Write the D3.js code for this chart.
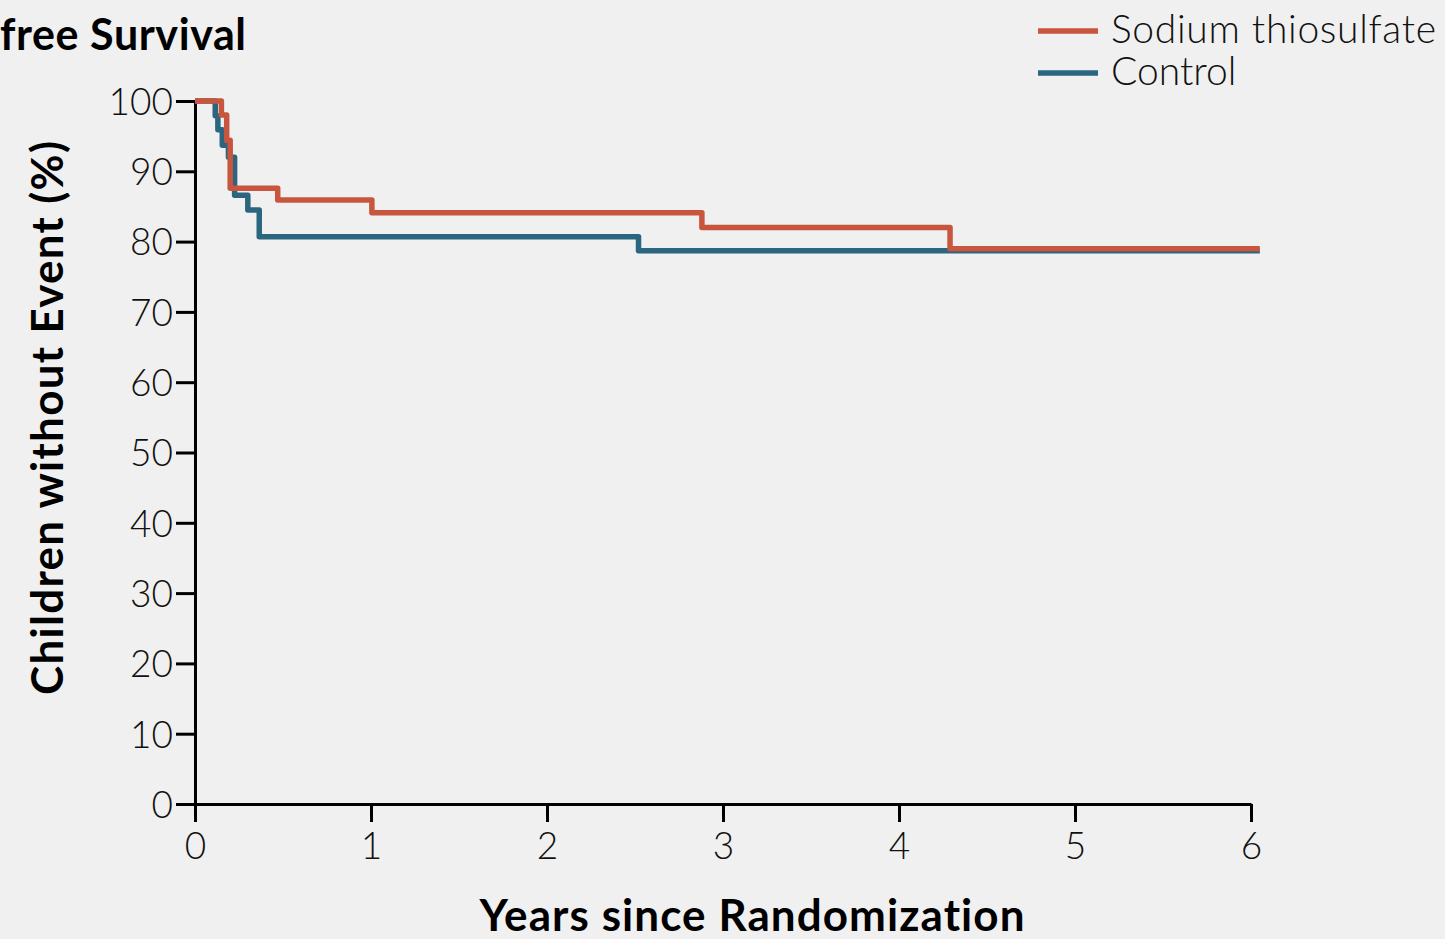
<!DOCTYPE html>
<html>
<head>
<meta charset="utf-8">
<script src="https://cdn.jsdelivr.net/npm/d3@7"></script>
<style>
  html, body { margin: 0; padding: 0; background: #f0f0f0; overflow: hidden; }
  svg { display: block; }
  text { font-variant-ligatures: none; font-feature-settings: "liga" 0; }
  .light { font-family: Lato, "Noto Sans", sans-serif; font-weight: 300; fill: #111; }
  .bold { font-family: Lato, "Noto Sans", sans-serif; font-weight: 700; fill: #000; }
</style>
</head>
<body>
<script>
// ---- data ----
const seriesNames = ["Sodium thiosulfate", "Control"];
const seriesColors = ["#c8553d", "#2b6580"];
const stsTimes = [0, 0.15, 0.18, 0.20, 0.47, 1.005, 2.88, 4.29, 6.05];
const stsSurv  = [100, 98.0, 94.4, 87.6, 85.9, 84.1, 82.0, 79.0, 79.0];
const ctrlTimes = [0, 0.115, 0.13, 0.155, 0.19, 0.225, 0.30, 0.365, 2.52, 6.05];
const ctrlSurv  = [100, 97.9, 95.9, 93.7, 92.0, 86.6, 84.5, 80.7, 78.7, 78.7];
const xTicks = [0, 1, 2, 3, 4, 5, 6];
const yTicks = [0, 10, 20, 30, 40, 50, 60, 70, 80, 90, 100];
const titleText = "free Survival";
const xTitle = "Years since Randomization";
const yTitle = "Children without Event (%)";

const W = 1445, H = 939;
const svg = d3.select("body").append("svg").attr("width", W).attr("height", H);
svg.append("rect").attr("width", W).attr("height", H).attr("fill", "#f0f0f0");

const x = d3.scaleLinear().domain([0, 6]).range([195, 1251]);
const y = d3.scaleLinear().domain([0, 100]).range([804, 101]);

// title (partially visible in the reference)
svg.append("text").attr("class", "bold").attr("x", 0).attr("y", 50)
  .attr("font-size", 43).attr("textLength", 246).attr("lengthAdjust", "spacing").text(titleText);

// axes
const yAxis = svg.append("g").attr("transform", "translate(195,0)")
  .call(d3.axisLeft(y).tickValues(yTicks).tickSize(19).tickPadding(3).tickSizeOuter(0));
const xAxis = svg.append("g").attr("transform", "translate(0,804)")
  .call(d3.axisBottom(x).tickValues(xTicks).tickFormat(d3.format("d")).tickSize(18).tickPadding(10).tickSizeOuter(0));
[yAxis, xAxis].forEach(g => {
  g.select(".domain").attr("stroke", "#000").attr("stroke-width", 3);
  g.selectAll(".tick line").attr("stroke", "#000").attr("stroke-width", 3);
  g.selectAll(".tick text").attr("class", "light").attr("font-size", 37).attr("fill", "#111");
});
yAxis.selectAll(".tick text").attr("dy", "0.36em");
xAxis.selectAll(".tick text").attr("dy", "0.72em");

// axis titles
svg.append("text").attr("class", "bold").attr("x", 752).attr("y", 931)
  .attr("text-anchor", "middle").attr("font-size", 44)
  .attr("textLength", 545).attr("lengthAdjust", "spacing").text(xTitle);
svg.append("text").attr("class", "bold")
  .attr("transform", "translate(63,418) rotate(-90)")
  .attr("text-anchor", "middle").attr("font-size", 44)
  .attr("textLength", 554).attr("lengthAdjust", "spacing").text(yTitle);

// curves
const line = d3.line().x(d => x(d[0])).y(d => y(d[1])).curve(d3.curveStepAfter);
const ctrlData = d3.zip(ctrlTimes, ctrlSurv);
const stsData = d3.zip(stsTimes, stsSurv);
svg.append("path").datum(ctrlData).attr("d", line).attr("fill", "none")
  .attr("stroke", seriesColors[1]).attr("stroke-width", 5.5).attr("stroke-linejoin", "round");
svg.append("path").datum(stsData).attr("d", line).attr("fill", "none")
  .attr("stroke", seriesColors[0]).attr("stroke-width", 5.5).attr("stroke-linejoin", "round");

// legend
const leg = svg.append("g");
seriesNames.forEach((name, i) => {
  const ly = 31 + i * 42;
  leg.append("line").attr("x1", 1038).attr("x2", 1098).attr("y1", ly).attr("y2", ly)
    .attr("stroke", seriesColors[i]).attr("stroke-width", 5.5);
  const t = leg.append("text").attr("class", "light").attr("x", 1111).attr("y", ly + 12)
    .attr("font-size", 39).text(name);
  if (i === 0) t.attr("textLength", 325).attr("lengthAdjust", "spacing");
});
</script>
</body>
</html>
